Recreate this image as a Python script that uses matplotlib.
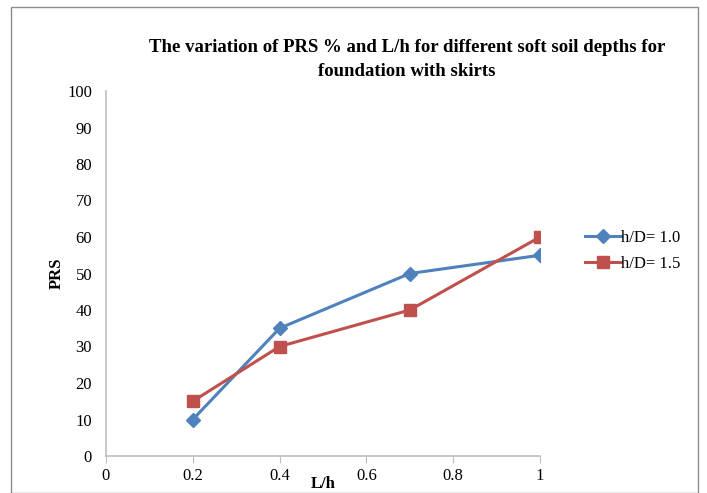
import matplotlib
matplotlib.use("Agg")
import matplotlib.pyplot as plt
from matplotlib.patches import Rectangle

x_vals = [0.2, 0.4, 0.7, 1.0]
prs_h10 = [10, 35, 50, 55]
prs_h15 = [15, 30, 40, 60]
labels = ["h/D= 1.0", "h/D= 1.5"]
x_ticks = [0, 0.2, 0.4, 0.6, 0.8, 1]
x_ticklabels = ["0", "0.2", "0.4", "0.6", "0.8", "1"]
y_ticks = list(range(0, 101, 10))

plt.rcParams['font.family'] = ['Liberation Serif', 'DejaVu Serif']

W, H = 707, 493
fig = plt.figure(figsize=(W / 100, H / 100), dpi=100)

# chart area border
fig.patches.append(Rectangle((11 / W, 0), (698 - 11) / W, 1 - 7 / H,
                             transform=fig.transFigure, fill=False,
                             edgecolor='#8c8c8c', linewidth=1.0))

ax = fig.add_axes([106 / W, 1 - 456 / H, (540 - 106) / W, (456 - 91) / H])
blue = '#4F81BD'
red = '#C0504D'
ax.plot(x_vals, prs_h10, color=blue, lw=2.2, marker='D', ms=7, label=labels[0], zorder=3)
ax.plot(x_vals, prs_h15, color=red, lw=2.2, marker='s', ms=9, label=labels[1], zorder=3)

ax.set_xlim(0, 1)
ax.set_ylim(0, 100)
ax.set_xticks(x_ticks)
ax.set_xticklabels(x_ticklabels)
ax.set_yticks(y_ticks)
for s in ['top', 'right']:
    ax.spines[s].set_visible(False)
for s in ['left', 'bottom']:
    ax.spines[s].set_color('#bfbfbf')
    ax.spines[s].set_linewidth(1.2)
ax.tick_params(axis='x', direction='out', length=5, color='#bfbfbf', labelsize=12, pad=4)
ax.tick_params(axis='y', length=0, labelsize=12, pad=10)

ax.set_xlabel("L/h", fontsize=12, fontweight='bold', labelpad=-6)
ax.set_ylabel("PRS", fontsize=12, fontweight='bold', labelpad=2)

fig.text(407 / W, 1 - 48 / H, "The variation of PRS % and L/h for different soft soil depths for",
         ha='center', va='center', fontsize=13.5, fontweight='bold')
fig.text(407 / W, 1 - 71 / H, "foundation with skirts",
         ha='center', va='center', fontsize=13.5, fontweight='bold')

leg = fig.legend(loc='center left', bbox_to_anchor=(578 / W, 1 - 251 / H),
                 frameon=False, fontsize=12, handlelength=2.2, handletextpad=0.0,
                 labelspacing=0.6, borderaxespad=0)

fig.savefig("out.png", dpi=100)
